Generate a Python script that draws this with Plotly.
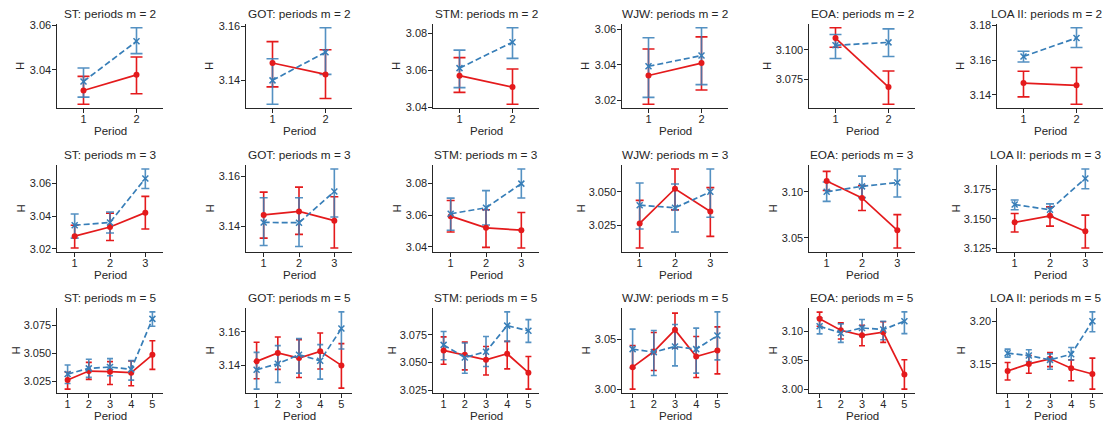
import math
import plotly.graph_objects as go

datasets = ["ST", "GOT", "STM", "WJW", "EOA", "LOA II"]
m_values = [2, 3, 5]

# ---- m = 2 ----
red_mean_m2 = [[3.0306, 3.0377], [3.1464, 3.1422], [3.0571, 3.0509], [3.0339, 3.0409], [3.1101, 3.0683], [3.1468, 3.1455]]
red_lo_m2 = [[3.0244, 3.0291], [3.1376, 3.1333], [3.0480, 3.0416], [3.0178, 3.0258], [3.1022, 3.0537], [3.1389, 3.1347]]
red_hi_m2 = [[3.0370, 3.0458], [3.1543, 3.1513], [3.0669, 3.0607], [3.0488, 3.0556], [3.1188, 3.0820], [3.1536, 3.1557]]
blue_mean_m2 = [[3.0347, 3.0529], [3.1400, 3.1504], [3.0612, 3.0753], [3.0391, 3.0451], [3.1039, 3.1064], [3.1621, 3.1727]]
blue_lo_m2 = [[3.0276, 3.0473], [3.1312, 3.1422], [3.0506, 3.0665], [3.0216, 3.0288], [3.0927, 3.0944], [3.1589, 3.1672]]
blue_hi_m2 = [[3.0408, 3.0590], [3.1480, 3.1594], [3.0710, 3.0831], [3.0551, 3.0607], [3.1131, 3.1179], [3.1651, 3.1785]]

# ---- m = 3 ----
red_mean_m3 = [[3.0277, 3.0333, 3.0421], [3.1445, 3.1459, 3.1422], [3.0594, 3.0520, 3.0505],
               [3.0263, 3.0523, 3.0352], [3.1118, 3.0933, 3.0581], [3.1471, 3.1526, 3.1395]]
red_lo_m3 = [[3.0204, 3.0250, 3.0321], [3.1352, 3.1367, 3.1312], [3.0494, 3.0396, 3.0392],
             [3.0079, 3.0365, 3.0166], [3.1014, 3.0796, 3.0389], [3.1389, 3.1439, 3.1253]]
red_hi_m3 = [[3.0344, 3.0417, 3.0521], [3.1537, 3.1557, 3.1518], [3.0693, 3.0635, 3.0617],
             [3.0436, 3.0671, 3.0531], [3.1222, 3.1067, 3.0752], [3.1546, 3.1602, 3.1532]]
blue_mean_m3 = [[3.0344, 3.0361, 3.0631], [3.1415, 3.1414, 3.1539], [3.0609, 3.0647, 3.0800],
                [3.0400, 3.0380, 3.0500], [3.1000, 3.1059, 3.1100], [3.1622, 3.1578, 3.1843]]
blue_lo_m3 = [[3.0265, 3.0296, 3.0569], [3.1322, 3.1318, 3.1437], [3.0505, 3.0538, 3.0709],
              [3.0222, 3.0199, 3.0309], [3.0896, 3.0937, 3.0944], [3.1578, 3.1520, 3.1756]]
blue_hi_m3 = [[3.0413, 3.0425, 3.0689], [3.1514, 3.1514, 3.1630], [3.0708, 3.0756, 3.0893],
              [3.0566, 3.0558, 3.0671], [3.1107, 3.1170, 3.1248], [3.1660, 3.1628, 3.1924]]

# ---- m = 5 ----
red_mean_m5 = [[3.0259, 3.0340, 3.0334, 3.0325, 3.0485], [3.1424, 3.1474, 3.1444, 3.1484, 3.1400],
               [3.0609, 3.0570, 3.0525, 3.0579, 3.0409], [3.0220, 3.0376, 3.0593, 3.0326, 3.0386],
               [3.1216, 3.1017, 3.0930, 3.0983, 3.0252], [3.1417, 3.1500, 3.1560, 3.1449, 3.1381]]
red_lo_m5 = [[3.0178, 3.0265, 3.0220, 3.0208, 3.0355], [3.1320, 3.1376, 3.1328, 3.1378, 3.1264],
             [3.0485, 3.0434, 3.0388, 3.0443, 3.0261], [3.0000, 3.0186, 3.0410, 3.0116, 3.0153],
             [3.1087, 3.0867, 3.0751, 3.0809, 3.0000], [3.1310, 3.1389, 3.1468, 3.1301, 3.1202]]
red_hi_m5 = [[3.0329, 3.0418, 3.0424, 3.0430, 3.0611], [3.1538, 3.1570, 3.1554, 3.1594, 3.1530],
             [3.0731, 3.0685, 3.0645, 3.0691, 3.0555], [3.0436, 3.0566, 3.0760, 3.0526, 3.0623],
             [3.1331, 3.1146, 3.1104, 3.1164, 3.0508], [3.1516, 3.1599, 3.1635, 3.1548, 3.1568]]
blue_mean_m5 = [[3.0313, 3.0364, 3.0376, 3.0355, 3.0807], [3.1374, 3.1410, 3.1464, 3.1428, 3.1620],
                [3.0659, 3.0545, 3.0598, 3.0832, 3.0786], [3.0400, 3.0370, 3.0426, 3.0400, 3.0536],
                [3.1087, 3.0972, 3.1058, 3.1030, 3.1174], [3.1627, 3.1599, 3.1548, 3.1615, 3.2004]]
blue_lo_m5 = [[3.0229, 3.0283, 3.0298, 3.0259, 3.0741], [3.1258, 3.1298, 3.1354, 3.1318, 3.1498],
              [3.0525, 3.0404, 3.0464, 3.0691, 3.0682], [3.0210, 3.0136, 3.0233, 3.0160, 3.0293],
              [3.0955, 3.0809, 3.0913, 3.0855, 3.0960], [3.1580, 3.1528, 3.1437, 3.1548, 3.1880]]
blue_hi_m5 = [[3.0394, 3.0446, 3.0451, 3.0433, 3.0870], [3.1478, 3.1518, 3.1560, 3.1524, 3.1720],
              [3.0780, 3.0676, 3.0734, 3.0956, 3.0886], [3.0600, 3.0586, 3.0646, 3.0610, 3.0773],
              [3.1233, 3.1128, 3.1203, 3.1174, 3.1336], [3.1675, 3.1667, 3.1619, 3.1694, 3.2115]]

# y tick steps per panel (row = m, col = dataset)
y_dticks = [[0.02, 0.02, 0.02, 0.02, 0.025, 0.02],
            [0.02, 0.02, 0.02, 0.025, 0.05, 0.025],
            [0.025, 0.02, 0.025, 0.05, 0.05, 0.05]]

rows_data = [
    (red_mean_m2, red_lo_m2, red_hi_m2, blue_mean_m2, blue_lo_m2, blue_hi_m2),
    (red_mean_m3, red_lo_m3, red_hi_m3, blue_mean_m3, blue_lo_m3, blue_hi_m3),
    (red_mean_m5, red_lo_m5, red_hi_m5, blue_mean_m5, blue_lo_m5, blue_hi_m5),
]

RED = "#e41a1c"
BLUE = "#377eb8"
INK = "#262626"
FONT = "Liberation Sans"

# page has an 8px body margin: draw the figure 8px smaller and shift coords
OFF = 8
W, H = 1111 - OFF, 425 - OFF
col_left = [57 - OFF, 246 - OFF, 433 - OFF, 622 - OFF, 809 - OFF, 997 - OFF]
col_w = 106
row_top = [24 - OFF, 165 - OFF, 308 - OFF]
row_bot = [108 - OFF, 252 - OFF, 393 - OFF]

fig = go.Figure()
layout = dict(
    width=W, height=H, margin=dict(l=0, r=0, t=0, b=0, pad=0, autoexpand=False),
    paper_bgcolor="white", plot_bgcolor="white", showlegend=False,
    font=dict(family=FONT, color=INK, size=11),
)
annotations = []

for r, m in enumerate(m_values):
    rm, rlo, rhi, bm, blo, bhi = rows_data[r]
    for c, name in enumerate(datasets):
        k = r * 6 + c + 1
        xa = "x" if k == 1 else f"x{k}"
        ya = "y" if k == 1 else f"y{k}"
        xs = list(range(1, m + 1))

        unit_px = col_w / m
        capw = max(2, round(0.1 * unit_px + 0.5))

        def err_trace(mean, lo, hi, color, opacity):
            return go.Scatter(
                x=xs, y=mean, xaxis=xa, yaxis=ya, mode="markers",
                marker=dict(size=1, opacity=0, color=color),
                opacity=opacity, hoverinfo="skip",
                error_y=dict(type="data", symmetric=False,
                             array=[h - v for h, v in zip(hi, mean)],
                             arrayminus=[v - l for v, l in zip(mean, lo)],
                             color=color, thickness=1.6, width=capw),
            )

        fig.add_trace(err_trace(rm[c], rlo[c], rhi[c], RED, 1.0))
        fig.add_trace(err_trace(bm[c], blo[c], bhi[c], BLUE, 0.85))
        fig.add_trace(go.Scatter(
            x=xs, y=rm[c], xaxis=xa, yaxis=ya, mode="lines+markers",
            line=dict(color=RED, width=1.7),
            marker=dict(symbol="circle", size=6, color=RED), hoverinfo="skip"))
        fig.add_trace(go.Scatter(
            x=xs, y=bm[c], xaxis=xa, yaxis=ya, mode="lines+markers",
            line=dict(color=BLUE, width=1.7, dash="6px,3px"),
            marker=dict(symbol="x-thin", size=6, color=BLUE,
                        line=dict(color=BLUE, width=1.5)), hoverinfo="skip"))

        # y range like matplotlib autoscale (5% margin)
        lo_all = min(rlo[c] + blo[c])
        hi_all = max(rhi[c] + bhi[c])
        span = hi_all - lo_all
        y0, y1 = lo_all - 0.05 * span, hi_all + 0.05 * span
        d = y_dticks[r][c]
        dec = 3 if abs(d - 0.025) < 1e-9 else 2
        tv = []
        t = math.ceil(y0 / d - 1e-9) * d
        while t <= y1 + 1e-12:
            tv.append(round(t, 4))
            t += d

        xdom = [col_left[c] / W, (col_left[c] + col_w) / W]
        ydom = [1 - row_bot[r] / H, 1 - row_top[r] / H]
        axis_common = dict(showline=True, linecolor=INK, linewidth=1.25,
                           ticks="outside", ticklen=3.5, tickwidth=1.1, tickcolor=INK,
                           showgrid=False, zeroline=False, automargin=False,
                           tickfont=dict(family=FONT, size=11, color=INK))
        layout["xaxis" if k == 1 else f"xaxis{k}"] = dict(
            domain=xdom, anchor=ya, range=[0.5, m + 0.5], ticklabelstandoff=-3,
            tickvals=xs, ticktext=[str(v) for v in xs], **axis_common)
        layout["yaxis" if k == 1 else f"yaxis{k}"] = dict(
            domain=ydom, anchor=xa, range=[y0, y1], ticklabelstandoff=-1,
            tickvals=tv, ticktext=[f"{v:.{dec}f}" for v in tv], **axis_common)

        maxlen = max(len(f"{v:.{dec}f}") for v in tv)
        hshift = -37 if maxlen <= 4 else -42

        annotations.append(dict(
            text=f"{name}: periods m = {m}", xref=f"{xa} domain", yref=f"{ya} domain",
            x=0.5, y=1, xanchor="center", yanchor="bottom", yshift=1,
            xshift=-4 if c == len(datasets) - 1 else 0, showarrow=False,
            font=dict(family=FONT, size=11.8, color=INK)))
        annotations.append(dict(
            text="Period", xref=f"{xa} domain", yref=f"{ya} domain",
            x=0.5, y=0, xanchor="center", yanchor="middle", yshift=-23, showarrow=False,
            font=dict(family=FONT, size=11.5, color=INK)))
        annotations.append(dict(
            text="H", xref=f"{xa} domain", yref=f"{ya} domain",
            x=0, y=0.5, xanchor="center", yanchor="middle", xshift=hshift,
            textangle=-90, showarrow=False,
            font=dict(family=FONT, size=11.5, color=INK)))

layout["annotations"] = annotations
fig.update_layout(**layout)
fig.write_html("out.html")
